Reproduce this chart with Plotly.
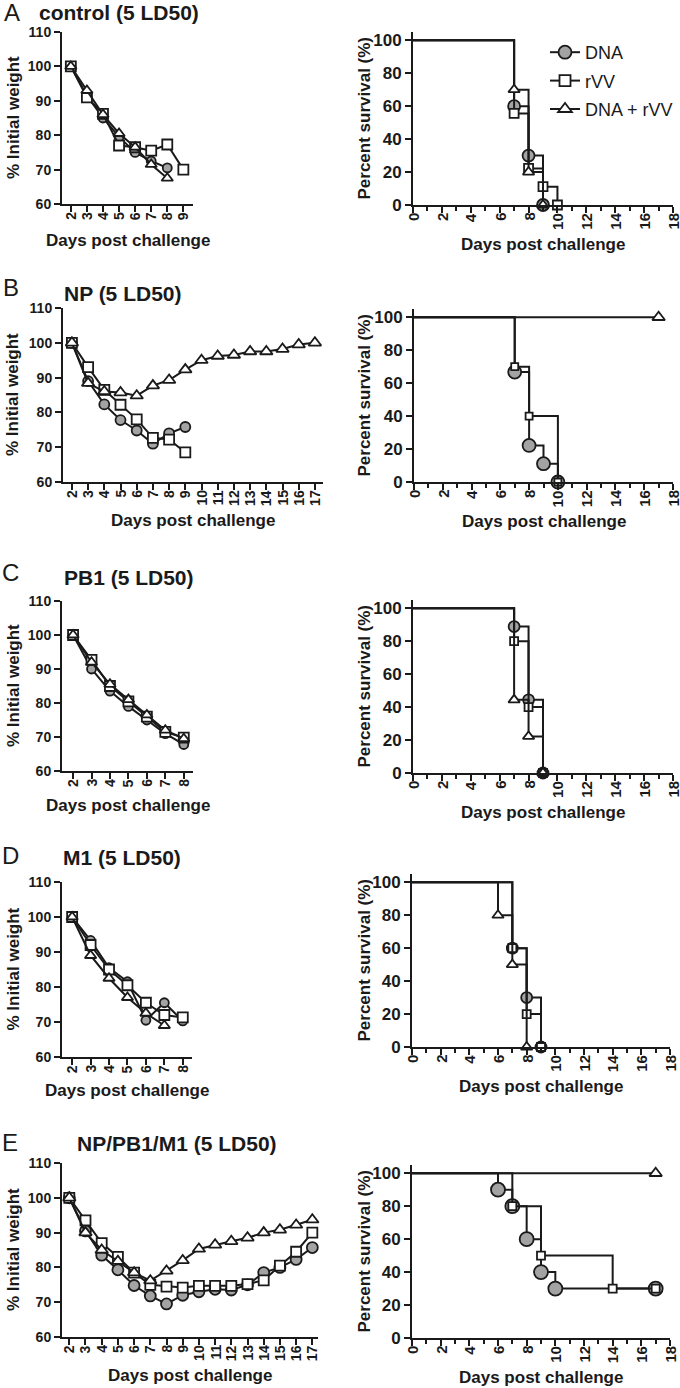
import plotly.graph_objects as go

W, H = 680, 1388
FONT = "Liberation Sans, Arial, sans-serif"
INK = "#1a1a1a"
GRAY = "#a3a3a3"

# ---------------- weight data (% initial weight) ----------------
days_A = [2, 3, 4, 5, 6, 7, 8, 9]
wA_dna = [100, 91.5, 85, 79.5, 75, 72.5, 70.5, None]
wA_rvv = [100, 91, 86.2, 77, 76.5, 75.5, 77.3, 70]
wA_combo = [100, 93, 86, 80.5, 76.5, 71.5, 67.5, None]

days_B = [2, 3, 4, 5, 6, 7, 8, 9, 10, 11, 12, 13, 14, 15, 16, 17]
wB_dna = [100, 89, 82.3, 77.8, 74.8, 71, 74, 75.8]
wB_rvv = [100, 93, 86.5, 82.2, 78, 72.7, 72.2, 68.5]
wB_combo = [100, 88.4, 86, 85.7, 84.8, 87.7, 89.3, 92.3, 95, 96.2, 96.5, 97.5, 97.5, 98.2, 99.5, 100]

days_C = [2, 3, 4, 5, 6, 7, 8]
wC_dna = [100, 90, 83.5, 79, 75, 71, 67.8]
wC_rvv = [100, 92.7, 85, 80.5, 76, 71.5, 69.8]
wC_combo = [100, 92, 85.5, 81, 76.5, 72, 69.5]

days_D = [2, 3, 4, 5, 6, 7, 8]
wD_dna = [100, 93.3, 85.5, 81.5, 70.5, 75.5, 70.3]
wD_rvv = [100, 92, 85, 80.5, 75.5, 72, 71.3]
wD_combo = [100, 89, 82.5, 77, 72.5, 69]

days_E = [2, 3, 4, 5, 6, 7, 8, 9, 10, 11, 12, 13, 14, 15, 16, 17]
wE_dna = [100, 90.5, 83.5, 79.3, 74.8, 71.8, 69.5, 72, 73, 73.7, 73.5, 75, 78.5, 80, 82.3, 85.7]
wE_rvv = [100, 93.5, 87, 83, 78.5, 75, 74.5, 74.2, 74.7, 74.7, 74.7, 75.2, 76.3, 80.5, 84.5, 90]
wE_combo = [100, 90, 85, 81.8, 78.5, 76.2, 79, 82, 85.3, 86.5, 87.5, 88.5, 90, 90.8, 92.2, 93.7]

# ---------------- survival data (day, % survival) ----------------
sA_dna = [(0, 100), (7, 60), (8, 30), (9, 0)]
sA_rvv = [(0, 100), (7, 55.6), (8, 22.2), (9, 11.1), (10, 0)]
sA_combo = [(0, 100), (7, 70), (8, 20), (9, 0)]
sB_dna = [(0, 100), (7, 66.7), (8, 22.2), (9, 11.1), (10, 0)]
sB_rvv = [(0, 100), (7, 70), (8, 40), (10, 0)]
sB_combo = [(0, 100), (17, 100)]
sC_dna = [(0, 100), (7, 88.9), (8, 44.4), (9, 0)]
sC_rvv = [(0, 100), (7, 80), (8, 40), (9, 0)]
sC_combo = [(0, 100), (7, 44.4), (8, 22.2), (9, 0)]
sD_dna = [(0, 100), (7, 60), (8, 30), (9, 0)]
sD_rvv = [(0, 100), (7, 60), (8, 20), (9, 0)]
sD_combo = [(0, 100), (6, 80), (7, 50), (8, 0)]
sE_dna = [(0, 100), (6, 90), (7, 80), (8, 60), (9, 40), (10, 30), (17, 30)]
sE_rvv = [(0, 100), (7, 80), (9, 50), (14, 30), (17, 30)]
sE_combo = [(0, 100), (17, 100)]

survival_ticks = [0, 2, 4, 6, 8, 10, 12, 14, 16, 18]
weight_ticks = [60, 70, 80, 90, 100, 110]
percent_ticks = [0, 20, 40, 60, 80, 100]

group_names = ["DNA", "rVV", "DNA + rVV"]
panel_titles = ["control (5 LD50)", "NP (5 LD50)", "PB1 (5 LD50)", "M1 (5 LD50)", "NP/PB1/M1 (5 LD50)"]
panel_letters = ["A", "B", "C", "D", "E"]

weights = [
    (days_A, [wA_dna, wA_rvv, wA_combo]),
    (days_B, [wB_dna, wB_rvv, wB_combo]),
    (days_C, [wC_dna, wC_rvv, wC_combo]),
    (days_D, [wD_dna, wD_rvv, wD_combo]),
    (days_E, [wE_dna, wE_rvv, wE_combo]),
]
survival = [
    [sA_dna, sA_rvv, sA_combo],
    [sB_dna, sB_rvv, sB_combo],
    [sC_dna, sC_rvv, sC_combo],
    [sD_dna, sD_rvv, sD_combo],
    [sE_dna, sE_rvv, sE_combo],
]

# ---------------- layout (pixels) ----------------
left_box = [
    (62, 193, 32, 204, [1.45, 9.6]),
    (63, 323, 308, 482, [1.45, 17.5]),
    (62, 193, 601, 771, [1.4, 8.5]),
    (62, 192, 882, 1057, [1.45, 8.5]),
    (62, 318, 1163, 1337, [1.55, 17.35]),
]
right_box = [
    (413, 673, 32, 205),
    (414, 673, 309, 482),
    (413, 673, 600, 773),
    (412, 670, 874, 1047),
    (412, 670, 1165, 1338),
]
title_pos = [(119, 13), (122, 293), (129, 577), (122, 857), (177, 1143)]
letter_pos = [(12, 13), (11, 288), (10, 572), (10, 855), (10, 1142)]
left_xtitle_y = [240, 520, 805, 1090, 1375]
right_xtitle_y = [245, 521, 812, 1086, 1377]

symbols = ["circle", "square", "triangle-up"]
fills = [GRAY, "white", "white"]
left_sizes = [[9, 10, 10], [10, 10, 11], [9, 10, 10], [9, 10, 10], [11, 10, 11]]
right_sizes = [[12, 9, 10], [13, 7, 11], [11, 8, 10], [11, 8, 10], [14, 8, 11]]


def px_x(a):
    return a / W


def px_y(a):
    return 1 - a / H


def ref(prefix, idx):
    return prefix if idx == 1 else f"{prefix}{idx}"


fig = go.Figure()
layout = {}
annotations = []

for i in range(5):
    li = i + 1
    ri = i + 6
    days, series = weights[i]
    for g in range(3):
        vals = series[g]
        fig.add_trace(go.Scatter(
            x=days[:len(vals)], y=vals, mode="lines+markers",
            xaxis=ref("x", li), yaxis=ref("y", li), showlegend=False, cliponaxis=False,
            line=dict(color=INK, width=2),
            marker=dict(symbol=symbols[g], size=left_sizes[i][g], color=fills[g],
                        line=dict(color=INK, width=1.8)),
            hoverinfo="skip"))
    x0, x1, yt, yb, xr = left_box[i]
    layout[f"xaxis{'' if li == 1 else li}"] = dict(
        domain=[px_x(x0), px_x(x1)], range=xr, anchor=ref("y", li),
        tickmode="array", tickvals=days, showticklabels=False)
    layout[f"yaxis{'' if li == 1 else li}"] = dict(
        domain=[px_y(yb), px_y(yt)], range=[60, 110], anchor=ref("x", li),
        tickmode="array", tickvals=weight_ticks,
        tickfont=dict(family=FONT, size=14, color=INK, weight="bold"))
    for d in days:
        annotations.append(dict(text=str(d), x=d, xref=ref("x", li), y=px_y(yb + 7), yref="paper",
                                textangle=-90, xanchor="center", yanchor="top", showarrow=False,
                                borderpad=0,
                                font=dict(family=FONT, size=14, color=INK, weight="bold")))
    for g in range(3):
        pts = survival[i][g]
        xs = [p[0] for p in pts]
        ys = [p[1] for p in pts]
        fig.add_trace(go.Scatter(
            x=xs, y=ys, mode="lines", line_shape="hv",
            xaxis=f"x{ri}", yaxis=f"y{ri}", showlegend=False, cliponaxis=False,
            line=dict(color=INK, width=2), hoverinfo="skip"))
        fig.add_trace(go.Scatter(
            x=xs[1:], y=ys[1:], mode="markers",
            xaxis=f"x{ri}", yaxis=f"y{ri}", showlegend=False, cliponaxis=False,
            marker=dict(symbol=symbols[g], size=right_sizes[i][g], color=fills[g],
                        line=dict(color=INK, width=1.8)),
            hoverinfo="skip"))
    x0, x1, yt, yb = right_box[i]
    layout[f"xaxis{ri}"] = dict(
        domain=[px_x(x0), px_x(x1)], range=[0, 18], anchor=f"y{ri}",
        tickmode="array", tickvals=survival_ticks, showticklabels=False,
        minor=dict(dtick=1, tick0=0, ticks="outside", ticklen=4, tickwidth=2, tickcolor=INK))
    layout[f"yaxis{ri}"] = dict(
        domain=[px_y(yb), px_y(yt)], range=[0, 105], anchor=f"x{ri}",
        tickmode="array", tickvals=percent_ticks,
        tickfont=dict(family=FONT, size=17, color=INK, weight="bold"))
    for t in survival_ticks:
        annotations.append(dict(text=str(t), x=t, xref=f"x{ri}", y=px_y(yb + 7), yref="paper",
                                textangle=-90, xanchor="center", yanchor="top", showarrow=False,
                                borderpad=0,
                                font=dict(family=FONT, size=15, color=INK, weight="bold")))

legend_sizes = [13, 11, 12]
for g in range(3):
    fig.add_trace(go.Scatter(
        x=[None], y=[None], mode="lines+markers", name=group_names[g],
        xaxis="x6", yaxis="y6", legendgroup=f"g{g}",
        line=dict(color=INK, width=2),
        marker=dict(symbol=symbols[g], size=legend_sizes[g], color=fills[g],
                    line=dict(color=INK, width=1.8))))

common_axis = dict(showline=True, linewidth=2, linecolor=INK, ticks="outside",
                   ticklen=6, tickwidth=2, tickcolor=INK, showgrid=False,
                   zeroline=False, fixedrange=True)
for k, v in layout.items():
    v.update(common_axis)

for i in range(5):
    tx, ty = title_pos[i]
    annotations.append(dict(text=panel_titles[i], x=px_x(tx), y=px_y(ty), xref="paper", yref="paper",
                            xanchor="center", yanchor="middle", showarrow=False,
                            font=dict(family=FONT, size=21, color=INK, weight="bold")))
    lx, ly = letter_pos[i]
    annotations.append(dict(text=panel_letters[i], x=px_x(lx), y=px_y(ly), xref="paper", yref="paper",
                            xanchor="center", yanchor="middle", showarrow=False,
                            font=dict(family=FONT, size=24, color=INK)))
    x0, x1, yt, yb, _ = left_box[i]
    annotations.append(dict(text="% Initial weight", x=px_x(13), y=px_y((yt + yb) / 2),
                            xref="paper", yref="paper", textangle=-90,
                            xanchor="center", yanchor="middle", showarrow=False,
                            font=dict(family=FONT, size=17, color=INK, weight="bold")))
    annotations.append(dict(text="Days post challenge", x=px_x((x0 + x1) / 2), y=px_y(left_xtitle_y[i]),
                            xref="paper", yref="paper", xanchor="center", yanchor="middle", showarrow=False,
                            font=dict(family=FONT, size=17, color=INK, weight="bold")))
    rx0, rx1, ryt, ryb = right_box[i]
    annotations.append(dict(text="Percent survival (%)", x=px_x(364), y=px_y((ryt + ryb) / 2),
                            xref="paper", yref="paper", textangle=-90,
                            xanchor="center", yanchor="middle", showarrow=False,
                            font=dict(family=FONT, size=17, color=INK, weight="bold")))
    annotations.append(dict(text="Days post challenge", x=px_x((rx0 + rx1) / 2), y=px_y(right_xtitle_y[i]),
                            xref="paper", yref="paper", xanchor="center", yanchor="middle", showarrow=False,
                            font=dict(family=FONT, size=17, color=INK, weight="bold")))

fig.update_layout(
    width=W, height=H, margin=dict(l=0, r=0, t=0, b=0, autoexpand=False),
    paper_bgcolor="white", plot_bgcolor="white",
    font=dict(family=FONT, color=INK),
    showlegend=True,
    legend=dict(x=px_x(545), y=px_y(34), xanchor="left", yanchor="top",
                bgcolor="rgba(0,0,0,0)", borderwidth=0, tracegroupgap=2,
                font=dict(family=FONT, size=18, color=INK), itemsizing="trace"),
    annotations=annotations,
    **layout)

fig.write_html("out.html", config={"displayModeBar": False},
               post_script="document.body.style.margin='0';document.body.style.overflow='hidden';")
